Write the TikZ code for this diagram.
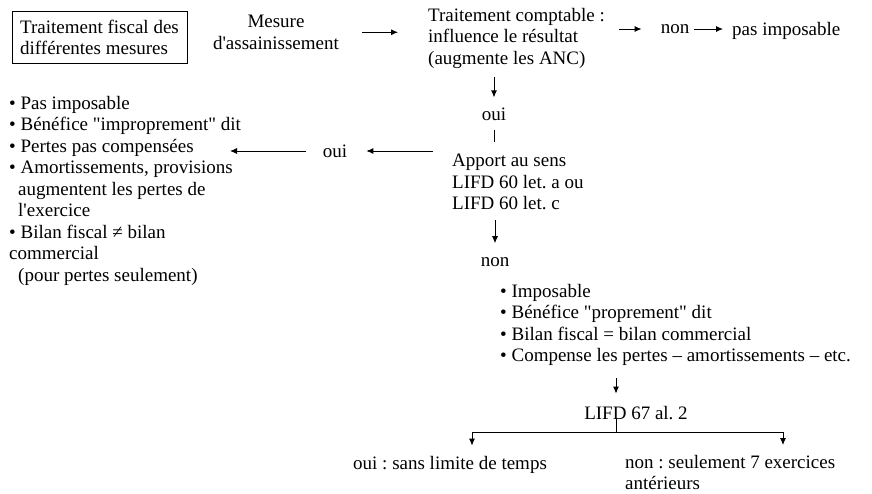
\documentclass[tikz,border=0pt]{standalone}
\usepackage{fontspec}
\setmainfont{Liberation Serif}[Ligatures=TeXOff]
\usetikzlibrary{arrows.meta, positioning}
\frenchspacing

\begin{document}
\begin{tikzpicture}[x=1pt, y=-1pt,
            txt/.style={inner sep=0pt, font=\fontsize{19}{21.5}\selectfont},
            box/.style={draw, rectangle, line width=0.8pt, inner sep=0pt, minimum width=175pt, minimum height=52pt, align=left, font=\fontsize{19}{21}\selectfont},
            arr/.style={-{Latex[length=7pt, width=6pt]}, line width=0.9pt}]
            \useasboundingbox (0,0) rectangle (872,493);
            \node[box] (titre) at (99.5,37) {Traitement fiscal des\\différentes mesures};
            \node[txt, align=center, anchor=north] (mesure) at (276,15) {Mesure\\d'assainissement};
            \node[txt, align=left, anchor=north west] (compta) at (428,8) {Traitement comptable :\\influence le résultat\\(augmente les ANC)};
            \node[txt] (non) at (675,29) {non};
            \node[txt, anchor=west] (pasimp) at (732,31) {pas imposable};
            \node[txt] (oui) at (494,114) {oui};
            \node[txt, align=left, anchor=north west] (apport) at (452,154) {Apport au sens\\LIFD 60 let. a ou\\LIFD 60 let. c};
            \node[txt] (ouigauche) at (335,151) {oui};
            \node[txt, align=left, anchor=north west] (listeoui) at (9,96) {• Pas imposable\\• Bénéfice "improprement" dit\\• Pertes pas compensées\\• Amortissements, provisions\\\hspace*{9pt}augmentent les pertes de\\\hspace*{9pt}l'exercice\\• Bilan fiscal ≠ bilan\\commercial\\\hspace*{9pt}(pour pertes seulement)};
            \coordinate (pertes) at (230,151);
            \node[txt] (nonbas) at (495,262) {non};
            \node[txt, align=left, anchor=north west] (listenon) at (500,284) {• Imposable\\• Bénéfice "proprement" dit\\• Bilan fiscal = bilan commercial\\• Compense les pertes – amortissements – etc.};
            \node[txt, anchor=base] (lifd) at (636,419) {LIFD 67 al. 2};
            \node[txt, anchor=base west] (sans) at (353,469) {oui : sans limite de temps};
            \node[txt, align=left, anchor=north west] (sept) at (625,455) {non : seulement 7 exercices\\antérieurs};
            \coordinate (fourche) at (616,432);
            \coordinate (fourcheG) at (472,432);
            \coordinate (fourcheD) at (783,432);

            \draw[arr, shorten <=23pt, shorten >=30pt] (mesure.east) -- (mesure.east -| compta.west);
            \draw[arr, shorten <=14pt, shorten >=19pt] (non.west -| compta.east) -- (non.west);
            \draw[arr, shorten <=5pt, shorten >=9pt] (non) -- (non -| pasimp.west);
            \draw[arr, shorten <=8pt, shorten >=10pt] (compta.south -| oui) -- (oui);
            \draw[line width=0.9pt, shorten <=9pt, shorten >=12pt] (oui) -- (oui |- apport.north);
            \draw[arr, shorten <=19pt, shorten >=19pt] (ouigauche -| apport.west) -- (ouigauche);
            \draw[arr, shorten <=17pt] (ouigauche) -- (pertes);
            \draw[arr, shorten <=10pt, shorten >=14pt] (apport.south -| nonbas) -- (nonbas);
            \draw[arr, shorten <=12pt, shorten >=12pt] (listenon.south -| fourche) -- (lifd.north -| fourche);
            \draw[line width=0.9pt] (lifd.south -| fourche) -- (fourche);
            \draw[line width=0.9pt] (fourcheG) -- (fourcheD);
            \draw[arr, shorten >=10pt] (fourcheG) -- (fourcheG |- sans.north);
            \draw[arr, shorten >=10pt] (fourcheD) -- (fourcheD |- sept.north);
        \end{tikzpicture}
\end{document}
